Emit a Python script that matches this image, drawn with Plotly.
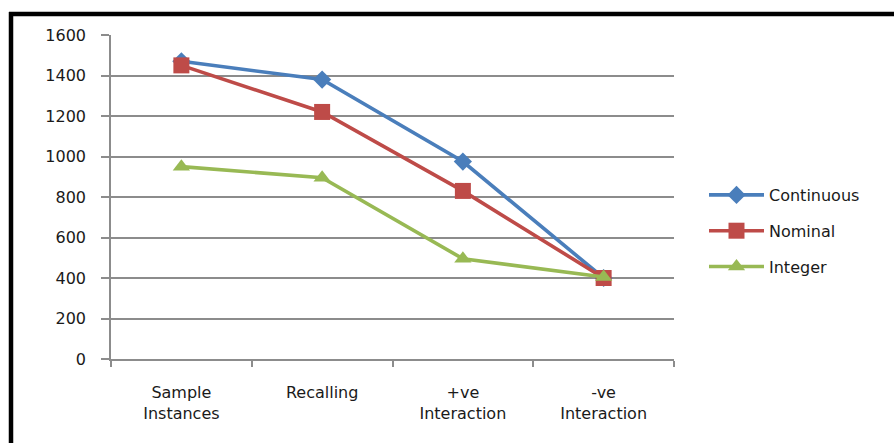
import plotly.graph_objects as go

# Categories along the x axis
categories = ["Sample<br>Instances", "Recalling", "+ve<br>Interaction", "-ve<br>Interaction"]

# Series values
continuous = [1470, 1380, 975, 400]
nominal = [1450, 1220, 830, 400]
integer = [950, 895, 495, 405]

# Y tick values
y_ticks = [0, 200, 400, 600, 800, 1000, 1200, 1400, 1600]

W, H = 894, 443
FONT = dict(family="DejaVu Sans", size=16, color="#1a1a1a")
GRID = "#8c8c8c"

series = [
    ("Continuous", continuous, "#4A7EBB", "diamond", 14),
    ("Nominal", nominal, "#BE4B48", "square", 16),
    ("Integer", integer, "#98B954", "triangle-up", 15),
]

positions = list(range(len(categories)))
boundaries = [p - 0.5 for p in positions] + [positions[-1] + 0.5]

fig = go.Figure()
for name, vals, color, symbol, size in series:
    fig.add_trace(go.Scatter(
        x=positions, y=vals, name=name, legendgroup=name,
        mode="lines+markers",
        line=dict(color=color, width=3.6),
        marker=dict(symbol=symbol, size=size, color=color),
    ))

def px_x(p):
    return p / W

def px_y(p):
    return 1 - p / H

fig.update_layout(
    width=W, height=H,
    margin=dict(l=0, r=0, t=0, b=0),
    paper_bgcolor="white", plot_bgcolor="white",
    font=FONT,
    xaxis=dict(
        domain=[px_x(111), px_x(674)],
        range=[boundaries[0], boundaries[-1]],
        tickvals=positions, ticktext=categories,
        ticks="",
        minor=dict(tickvals=boundaries, ticks="outside", ticklen=6,
                   tickcolor=GRID, tickwidth=1.5, showgrid=False),
        showgrid=False, zeroline=False,
        showline=True, linecolor=GRID, linewidth=1.5,
        ticklabelstandoff=18,
        tickfont=FONT,
        automargin=False,
    ),
    yaxis=dict(
        domain=[px_y(359), px_y(35)],
        range=[0, 1600],
        tickvals=y_ticks,
        ticks="outside", ticklen=8, tickcolor=GRID, tickwidth=1.5,
        showgrid=True, gridcolor=GRID, gridwidth=1.5,
        showline=True, linecolor=GRID, linewidth=1.5,
        zeroline=False,
        ticklabelstandoff=12,
        tickfont=FONT,
        automargin=False,
    ),
    legend=dict(
        x=px_x(704), y=px_y(231), xanchor="left", yanchor="middle",
        font=FONT, itemwidth=55, tracegroupgap=12,
        bgcolor="rgba(0,0,0,0)",
    ),
    showlegend=True,
    shapes=[
        dict(type="line", xref="paper", yref="paper",
             x0=px_x(9), x1=1.01, y0=px_y(14), y1=px_y(14),
             line=dict(color="black", width=4.5)),
        dict(type="line", xref="paper", yref="paper",
             x0=px_x(11), x1=px_x(11), y0=px_y(12), y1=-0.01,
             line=dict(color="black", width=4.5)),
    ],
)

fig.write_html("out.html")
